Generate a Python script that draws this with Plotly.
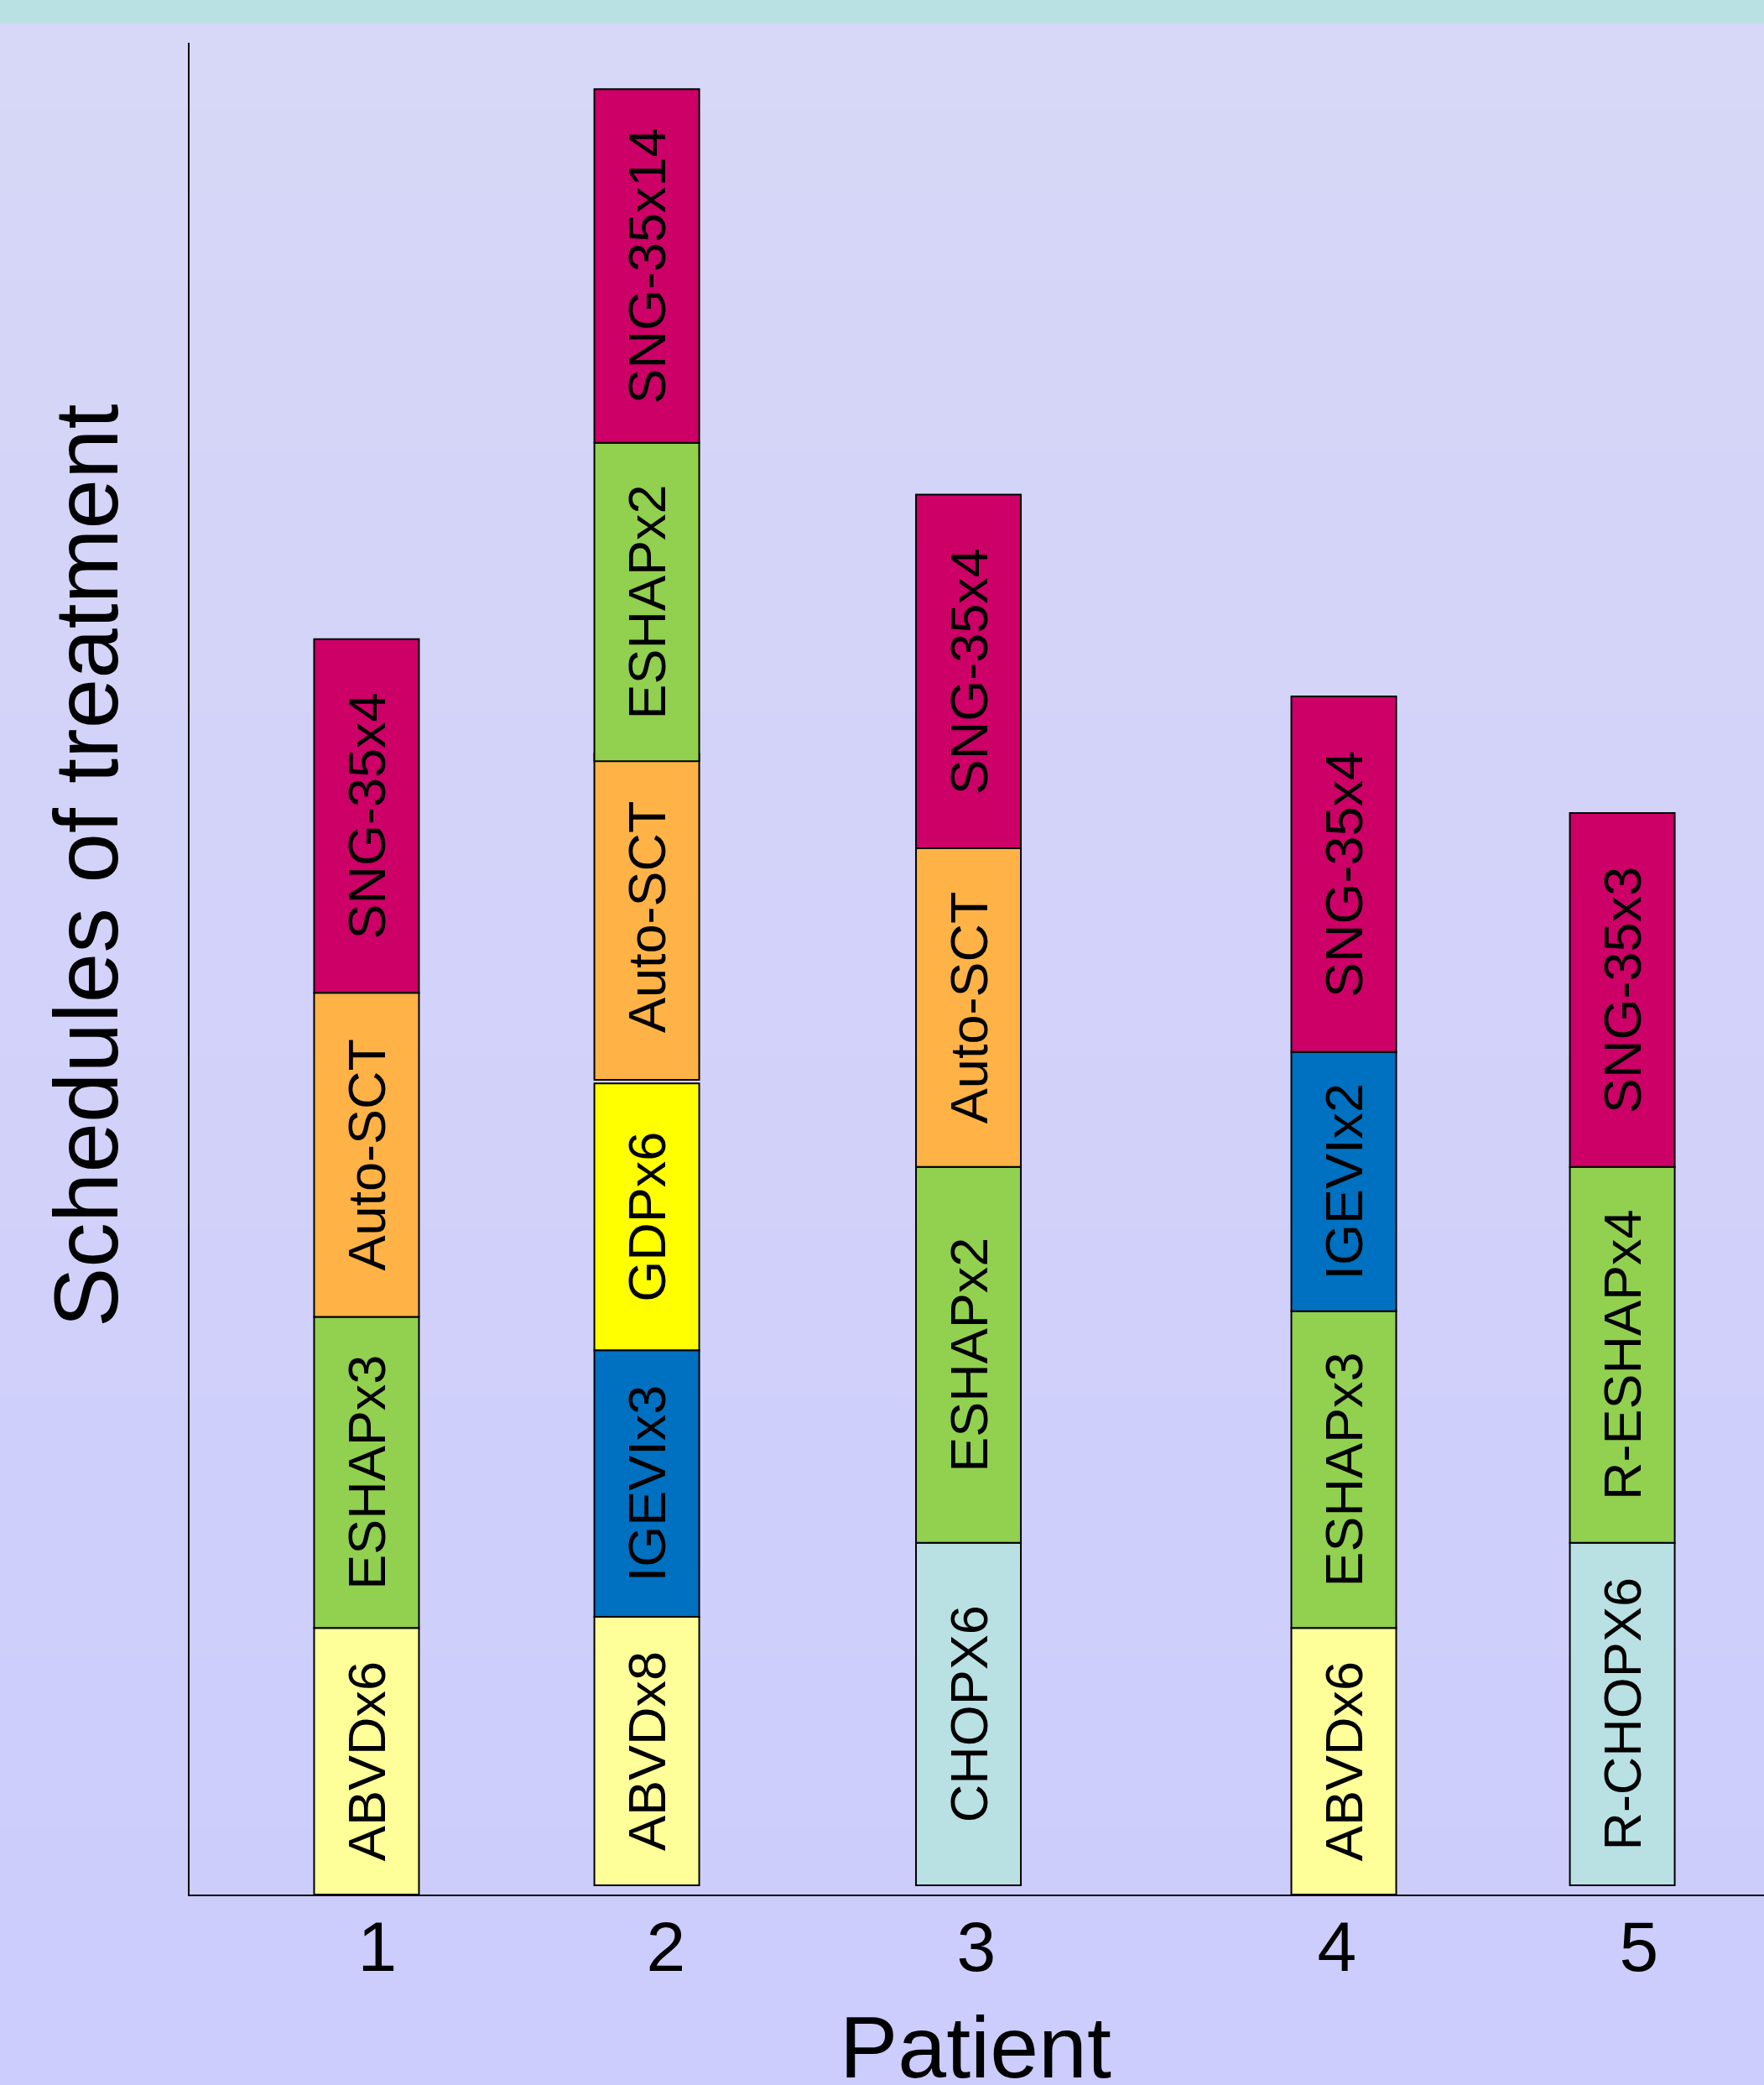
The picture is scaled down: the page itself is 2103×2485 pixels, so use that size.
import re
import plotly.graph_objects as go

# ---------------- data ----------------
patients = ["1", "2", "3", "4", "5"]

p1_labels = ["ABVDx6", "ESHAPx3", "Auto-SCT", "SNG-35x4"]
p1_start = [0.0, 14.4, 31.2, 48.7]
p1_end = [14.4, 31.2, 48.7, 67.8]

p2_labels = ["ABVDx8", "IGEVIx3", "GDPx6", "Auto-SCT", "ESHAPx2", "SNG-35x14"]
p2_start = [0.5, 15.0, 29.4, 44.0, 61.2, 78.4]
p2_end = [15.0, 29.4, 43.8, 61.6, 78.4, 97.5]

p3_labels = ["CHOPX6", "ESHAPx2", "Auto-SCT", "SNG-35x4"]
p3_start = [0.5, 19.0, 39.3, 56.5]
p3_end = [19.0, 39.3, 56.5, 75.6]

p4_labels = ["ABVDx6", "ESHAPx3", "IGEVIx2", "SNG-35x4"]
p4_start = [0.0, 14.4, 31.5, 45.5]
p4_end = [14.4, 31.5, 45.5, 64.7]

p5_labels = ["R-CHOPX6", "R-ESHAPx4", "SNG-35x3"]
p5_start = [0.5, 19.0, 39.3]
p5_end = [19.0, 39.3, 58.4]

x_title = "Patient"
y_title = "Schedules of treatment"

# ---------------- style / layout ----------------
W, H = 2103, 2485
ML, MR, MT, MB = 226, 0, 51, 227
PW, PH = W - ML - MR, H - MT - MB

bar_centers = [0.1124, 0.2904, 0.4947, 0.7331, 0.9100]   # slot positions on x domain
tick_pos = [0.1193, 0.3026, 0.4997, 0.7288, 0.9206]
bar_width = 0.0666

regimen_colors = {
    "ABVD": "#FFFF99",
    "ESHAP": "#92D050",
    "Auto-SCT": "#FFB347",
    "SNG-35": "#CC0066",
    "IGEVI": "#0070C0",
    "GDP": "#FFFF00",
    "CHOP": "#B9E0E3",
}


def regimen(label):
    base = re.sub(r"[xX]\d+$", "", label)
    if base.startswith("R-"):
        base = base[2:]
    return base


FONT = "Liberation Sans, Arial, sans-serif"

fig = go.Figure()
groups = [
    (p1_labels, p1_start, p1_end),
    (p2_labels, p2_start, p2_end),
    (p3_labels, p3_start, p3_end),
    (p4_labels, p4_start, p4_end),
    (p5_labels, p5_start, p5_end),
]
for i, (labels, starts, ends) in enumerate(groups):
    heights = [e - s for s, e in zip(starts, ends)]
    fig.add_trace(go.Bar(
        x=[bar_centers[i]] * len(labels),
        y=heights,
        base=starts,
        width=bar_width,
        text=labels,
        textposition="inside",
        insidetextanchor="middle",
        textangle=-90,
        textfont=dict(family=FONT, size=63, color="black"),
        marker=dict(color=[regimen_colors[regimen(l)] for l in labels],
                    line=dict(color="black", width=2)),
        name="Patient " + patients[i],
        showlegend=False,
        hovertemplate="%{text}<extra></extra>",
    ))

# background: teal band + lavender vertical gradient
def px_to_paper_y(py):
    return (H - MB - py) / PH

shapes = []
top_c = (0xD7, 0xD7, 0xF7)
bot_c = (0xCC, 0xCC, 0xFD)
n_bands = 24
band_top = 28
for k in range(n_bands):
    y0 = band_top + (H - band_top) * k / n_bands
    y1 = band_top + (H - band_top) * (k + 1) / n_bands + 1
    t = (k + 0.5) / n_bands
    c = tuple(round(a + (b - a) * t) for a, b in zip(top_c, bot_c))
    shapes.append(dict(type="rect", xref="paper", yref="paper",
                       x0=-ML / PW - 0.01, x1=1.01,
                       y0=px_to_paper_y(y1), y1=px_to_paper_y(y0),
                       fillcolor="rgb(%d,%d,%d)" % c, line=dict(width=0), layer="below"))
shapes.append(dict(type="rect", xref="paper", yref="paper",
                   x0=-ML / PW - 0.01, x1=1.01,
                   y0=px_to_paper_y(band_top), y1=px_to_paper_y(-2),
                   fillcolor="#B9E0E3", line=dict(width=0), layer="below"))

fig.update_layout(
    width=W, height=H,
    margin=dict(l=ML, r=MR, t=MT, b=MB, pad=0),
    paper_bgcolor="#D1D1FA",
    plot_bgcolor="rgba(0,0,0,0)",
    barmode="overlay",
    shapes=shapes,
    font=dict(family=FONT, color="black"),
    xaxis=dict(range=[0, 1], tickmode="array", tickvals=tick_pos, ticktext=patients,
               tickfont=dict(family=FONT, size=84, color="black"),
               showline=True, linecolor="black", linewidth=2, ticks="",
               showgrid=False, zeroline=False, fixedrange=True, ticklabelstandoff=-12),
    yaxis=dict(range=[0, 100], showticklabels=False, ticks="",
               showline=True, linecolor="black", linewidth=2,
               showgrid=False, zeroline=False, fixedrange=True),
    annotations=[
        dict(text=x_title, xref="paper", yref="paper", x=0.4992, y=px_to_paper_y(2440),
             xanchor="center", yanchor="middle", showarrow=False,
             font=dict(family=FONT, size=104, color="black")),
        dict(text=y_title, xref="paper", yref="paper", x=(103 - ML) / PW, y=px_to_paper_y(1032),
             xanchor="center", yanchor="middle", showarrow=False, textangle=-90,
             font=dict(family=FONT, size=107, color="black")),
    ],
)

fig.write_html("out.html")
